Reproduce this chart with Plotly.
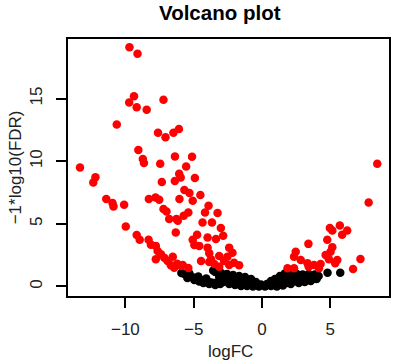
import plotly.graph_objects as go

# Significant (red) points: logFC, -log10(FDR)
red_x = [-9.70, -9.11, -9.37, -9.72, -9.17, -8.44, -7.21, -10.63, -7.61, -7.06,
         -6.48, -6.08, -9.05, -8.72, -8.64, -7.45, -6.37, -5.12, -5.55, -13.32,
         -12.19, -12.35, -6.06, -5.95, -4.91, -7.33, -6.38, -11.40, -10.94, -10.87,
         -10.09, -8.28, -7.79, -7.52, -7.21, -6.99, -6.79, -6.26, -9.97, -9.17,
         -8.95, -8.30, -8.13, -7.77, -7.64, -7.40, -7.15, -7.77, -6.91, -6.67,
         -6.43, -6.31, -5.68, -5.31, -5.07, -4.51, -6.04, -3.91, -4.17, -3.25,
         -5.39, -5.73, -6.16, -4.35, -3.66, -3.01, -2.84, -4.75, -3.98, -3.37,
         -5.07, -4.95, -4.59, -3.98, -2.40, -3.86, -3.13, -2.53, -2.16, -4.46,
         -3.73, -2.77, -2.04, -1.67, -6.21, -5.92, -6.53, -5.80, -3.13, -2.40,
         -3.86, -3.49, -5.39,
         8.44, 7.81, 5.70, 4.97, 5.15, 6.24, 5.87, 4.78, 5.15, 3.40,
         2.47, 5.02, 4.66, 2.35, 4.90, 5.51, 7.21, 2.84, 3.33, 3.81,
         4.29, 1.87, 2.35, 4.17, 6.67, 3.42, 5.36]
red_y = [19.10, 18.58, 15.18, 14.68, 14.30, 14.10, 14.90, 12.92, 12.26, 11.90,
         12.26, 12.56, 10.90, 10.18, 9.86, 9.80, 10.38, 10.36, 9.58, 9.50,
         8.72, 8.30, 9.00, 8.70, 8.66, 8.34, 8.42, 6.98, 6.66, 6.38,
         6.52, 6.98, 7.10, 6.92, 6.18, 5.98, 5.38, 5.38, 4.78, 4.10,
         3.72, 3.72, 3.34, 3.24, 2.84, 2.58, 2.30, 2.18, 2.04, 1.70,
         1.50, 4.30, 7.70, 7.46, 6.84, 7.30, 6.98, 6.44, 5.90, 5.86,
         5.90, 5.64, 5.24, 5.10, 5.10, 4.66, 4.04, 4.12, 3.90, 3.78,
         3.72, 3.32, 3.24, 3.10, 3.10, 2.66, 2.44, 2.38, 2.70, 2.04,
         2.18, 2.04, 1.90, 1.70, 1.82, 1.64, 2.38, 1.72, 1.58, 1.72,
         1.96, 1.80, 1.48,
         9.80, 6.70, 4.86, 4.66, 4.46, 4.46, 4.12, 3.72, 3.14, 3.40,
         2.78, 2.78, 2.52, 2.38, 2.18, 2.12, 2.20, 2.12, 1.86, 1.72,
         1.80, 1.46, 1.46, 1.46, 1.40, 1.58, 1.86]

# Non-significant (black) points
black_x = [-5.90, -5.68, -5.46, -5.24, -5.02, -4.80, -4.59, -4.37, -4.15, -3.93,
           -3.71, -3.49, -3.28, -3.06, -5.31, -4.66, -4.08, -4.95, -4.29,
           -5.46, -4.59, -3.86, -3.42,
           -3.42, -2.98, -2.55, -2.11, -1.67, -1.24, -0.80, -0.44, -0.07,
           -3.13, -2.69, -2.26, -1.82, -1.38, -0.95, -0.51,
           -3.57, -2.40, -1.53, -1.97, -1.09, -0.66,
           -2.84, -2.40, -1.97, -1.53, -1.09, -0.66, -0.22, 0.22, 0.66,
           0.36, 0.66, 0.95, 1.31, 1.67, 2.11, 2.55, 2.98, 3.42, 3.86, 4.15,
           1.09, 1.53, 1.97, 2.40, 2.84, 3.28, 3.71, 1.53, 2.11, 2.69, 3.13,
           3.57, 4.00, 1.09, 2.40, 3.42, 2.84, 0.51, 1.82,
           4.80, 5.73]
black_y = [1.08, 1.00, 0.88, 0.80, 0.72, 0.64, 0.56, 0.48, 0.40, 0.36,
           0.32, 0.28, 0.24, 0.20, 1.04, 0.80, 0.64, 0.52, 0.28,
           0.68, 0.40, 0.20, 0.12,
           1.16, 1.08, 1.00, 0.92, 0.84, 0.76, 0.60, 0.36, 0.16,
           0.76, 0.60, 0.52, 0.44, 0.36, 0.28, 0.16,
           1.28, 0.76, 0.60, 0.68, 0.52, 0.36,
           0.36, 0.20, 0.12, 0.04, 0.04, 0.00, 0.00, 0.00, 0.04,
           0.20, 0.44, 0.60, 0.84, 1.04, 1.08, 1.00, 0.96, 1.00, 0.96, 0.84,
           0.20, 0.44, 0.60, 0.68, 0.60, 0.68, 0.60, 0.08, 0.20, 0.28, 0.36,
           0.44, 0.60, 0.00, 0.44, 0.76, 0.84, 0.24, 0.28,
           1.10, 1.10]

x_ticks = [-10, -5, 0, 5]
x_tick_text = ["\u221210", "\u22125", "0", "5"]
y_ticks = [0, 5, 10, 15]

FONT = "Liberation Sans, Arial, sans-serif"

fig = go.Figure()
fig.add_trace(go.Scatter(x=black_x, y=black_y, mode="markers",
                         marker=dict(color="black", size=8.5, line=dict(width=0)),
                         hoverinfo="skip"))
fig.add_trace(go.Scatter(x=red_x, y=red_y, mode="markers",
                         marker=dict(color="#ff0000", size=8.5, line=dict(width=0)),
                         hoverinfo="skip"))

axis_common = dict(showline=True, linecolor="black", linewidth=2, mirror=True,
                   ticks="outside", ticklen=10, tickwidth=2, tickcolor="black",
                   showgrid=False, zeroline=False,
                   tickfont=dict(family=FONT, size=17, color="#222"))

fig.update_layout(
    width=398, height=362,
    margin=dict(l=68, r=7, t=39, b=66),
    paper_bgcolor="white", plot_bgcolor="white",
    showlegend=False,
    xaxis=dict(range=[-14.2, 9.3], tickvals=x_ticks, ticktext=x_tick_text,
               ticklabelstandoff=7, **axis_common),
    yaxis=dict(range=[-0.76, 19.75], tickvals=y_ticks, tickangle=-90,
               ticklabelstandoff=7, **axis_common),
    annotations=[
        dict(text="<b>Volcano plot</b>", xref="paper", yref="paper",
             x=(221 - 68) / 323, y=(296 - 13) / 257,
             xanchor="center", yanchor="middle", showarrow=False,
             font=dict(family=FONT, size=20.5, color="black")),
        dict(text="logFC", xref="paper", yref="paper",
             x=(232 - 68) / 323, y=(296 - 351) / 257,
             xanchor="center", yanchor="middle", showarrow=False,
             font=dict(family=FONT, size=17, color="#222")),
        dict(text="\u22121*log10(FDR)", xref="paper", yref="paper",
             x=(15 - 68) / 323, y=(296 - 167) / 257, textangle=-90,
             xanchor="center", yanchor="middle", showarrow=False,
             font=dict(family=FONT, size=17, color="#222")),
    ],
)

fig.write_html("out.html")
